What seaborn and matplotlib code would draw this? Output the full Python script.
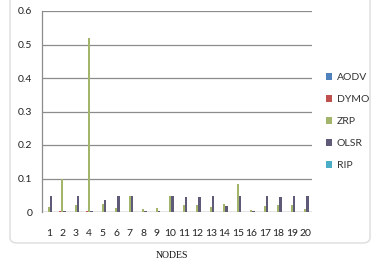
import matplotlib
matplotlib.use("Agg")
import matplotlib.pyplot as plt
import seaborn as sns
import pandas as pd
import numpy as np
from matplotlib.patches import FancyBboxPatch, Patch
from matplotlib.ticker import FixedLocator

nodes = [str(i) for i in range(1, 21)]
protocols = ["AODV", "DYMO", "ZRP", "OLSR", "RIP"]
aodv = [0.0] * 20
dymo = [0.0, 0.002, 0.0, 0.002, 0.0, 0.0, 0.0, 0.0, 0.0, 0.0,
        0.0, 0.0, 0.0, 0.0, 0.0, 0.0, 0.0, 0.0, 0.0, 0.0]
zrp = [0.015, 0.100, 0.020, 0.520, 0.025, 0.012, 0.047, 0.010, 0.012, 0.048,
       0.020, 0.020, 0.015, 0.025, 0.085, 0.006, 0.018, 0.020, 0.022, 0.010]
olsr = [0.048, 0.002, 0.048, 0.002, 0.037, 0.048, 0.047, 0.004, 0.003, 0.047,
        0.046, 0.046, 0.048, 0.017, 0.048, 0.002, 0.048, 0.046, 0.047, 0.048]
rip = [0.0] * 20
colors = ["#4F81BD", "#C0504D", "#A2B56A", "#5F5A78", "#4BACC6"]

series = {"AODV": aodv, "DYMO": dymo, "ZRP": zrp, "OLSR": olsr, "RIP": rip}
rows = []
for p in protocols:
    for n, v in zip(nodes, series[p]):
        rows.append({"node": n, "protocol": p, "value": v})
df = pd.DataFrame(rows)

sns.set_style("white")
plt.rcParams["font.family"] = ["Lato", "DejaVu Sans"]

W, H = 380, 260
fig = plt.figure(figsize=(3.8, 2.6), dpi=100)
fig.patch.set_facecolor("white")

# outer chart frame
frame = FancyBboxPatch((10 / W, 17 / H), 360 / W, 250 / H,
                       boxstyle="round,pad=0,rounding_size=0.02",
                       transform=fig.transFigure, fill=False,
                       edgecolor="#dcdcdc", linewidth=1.0, zorder=0)
fig.patches.append(frame)

ax = fig.add_axes([42 / W, 48 / H, 270 / W, 201 / H])
sns.barplot(data=df, x="node", y="value", hue="protocol", hue_order=protocols,
            palette=colors, width=0.9, ax=ax, legend=False, saturation=1,
            linewidth=0, edgecolor="none")

ax.set_ylim(0, 0.6)
ax.set_xlim(-0.5, 19.5)
ax.set_yticks([0, 0.1, 0.2, 0.3, 0.4, 0.5, 0.6])
ax.set_yticklabels(["0", "0.1", "0.2", "0.3", "0.4", "0.5", "0.6"])
ax.yaxis.grid(True, color="#8c8c8c", linewidth=0.9)
ax.set_axisbelow(True)
for s in ["top", "right", "bottom"]:
    ax.spines[s].set_visible(False)
ax.spines["left"].set_color("#8c8c8c")
ax.spines["left"].set_linewidth(0.9)
ax.axhline(0, color="#8c8c8c", linewidth=0.9, zorder=0.5)

ax.tick_params(axis="y", which="major", length=3, width=0.8, color="#8c8c8c",
               labelsize=7.5, pad=4, labelcolor="#222222")
ax.tick_params(axis="x", which="major", length=0, labelsize=7.5, pad=12,
               labelcolor="#222222")
ax.xaxis.set_minor_locator(FixedLocator(np.arange(-0.5, 20, 1.0)))
ax.tick_params(axis="x", which="minor", length=3, width=0.8, color="#8c8c8c",
               direction="out")
ax.set_xlabel("")
ax.set_ylabel("")

fig.text(172 / W, 1 - 255 / H, "NODES", ha="center", va="center",
         fontsize=7, family=["Liberation Serif", "DejaVu Serif"], color="#111111")

handles = [Patch(facecolor=c, edgecolor="none") for c in colors]
fig.legend(handles, protocols, loc="upper left",
           bbox_to_anchor=(322 / W, 1 - 69 / H), frameon=False,
           fontsize=7.5, handlelength=0.6, handleheight=0.6,
           handletextpad=0.4, labelspacing=1.25, borderaxespad=0,
           labelcolor="#333333")

fig.savefig("out.png", dpi=100, facecolor="white")
